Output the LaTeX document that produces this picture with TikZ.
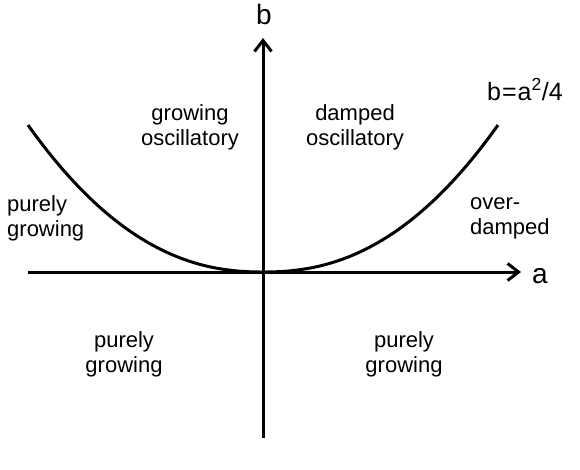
\documentclass[tikz,border=0pt]{standalone}
\usepackage{fontspec}
\setmainfont{Liberation Sans}
\usetikzlibrary{arrows.meta}
\begin{document}
\begin{tikzpicture}[x=1pt,y=-1pt,
  axis/.style={line width=3pt,-{Straight Barb[length=11pt,width=17pt,line width=3pt]}},
  curve/.style={line width=3pt},
  lbl/.style={font=\fontsize{22}{25}\selectfont,align=center,inner sep=0pt},
  lbll/.style={lbl,align=left,anchor=west},
  axlbl/.style={font=\fontsize{28}{32}\selectfont,inner sep=0pt,anchor=base}]
\useasboundingbox (0,0) rectangle (580,469);
\coordinate (xs) at (28,272);
\coordinate (xe) at (521,272);
\coordinate (ys) at (263,438);
\coordinate (ye) at (263,38);
\draw[axis] (xs) -- (xe);
\draw[axis] (ys) -- (ye);
\draw[curve] plot[domain=-1:1,samples=80,smooth] ({263+235*\x},{272-147*pow(abs(\x),2.25)});
\node[axlbl] (lb) at (264,24) {b};
\node[axlbl] (la) at (540,283) {a};
\node[font=\fontsize{25}{30}\selectfont,inner sep=0pt,anchor=base west] (eq) at (487,100) {b\kern1pt=\kern1pt a\textsuperscript{2}/4};
\node[lbl] (go) at (190,127) {growing\\oscillatory};
\node[lbl] (do) at (355,127) {damped\\oscillatory};
\node[lbll] (pgl) at (7,218) {purely\\growing};
\node[lbll] (od) at (470,218) {over-\\damped};
\node[lbl] (pbl) at (124,354) {purely\\growing};
\node[lbl] (pbr) at (404,354) {purely\\growing};
\end{tikzpicture}
\end{document}
